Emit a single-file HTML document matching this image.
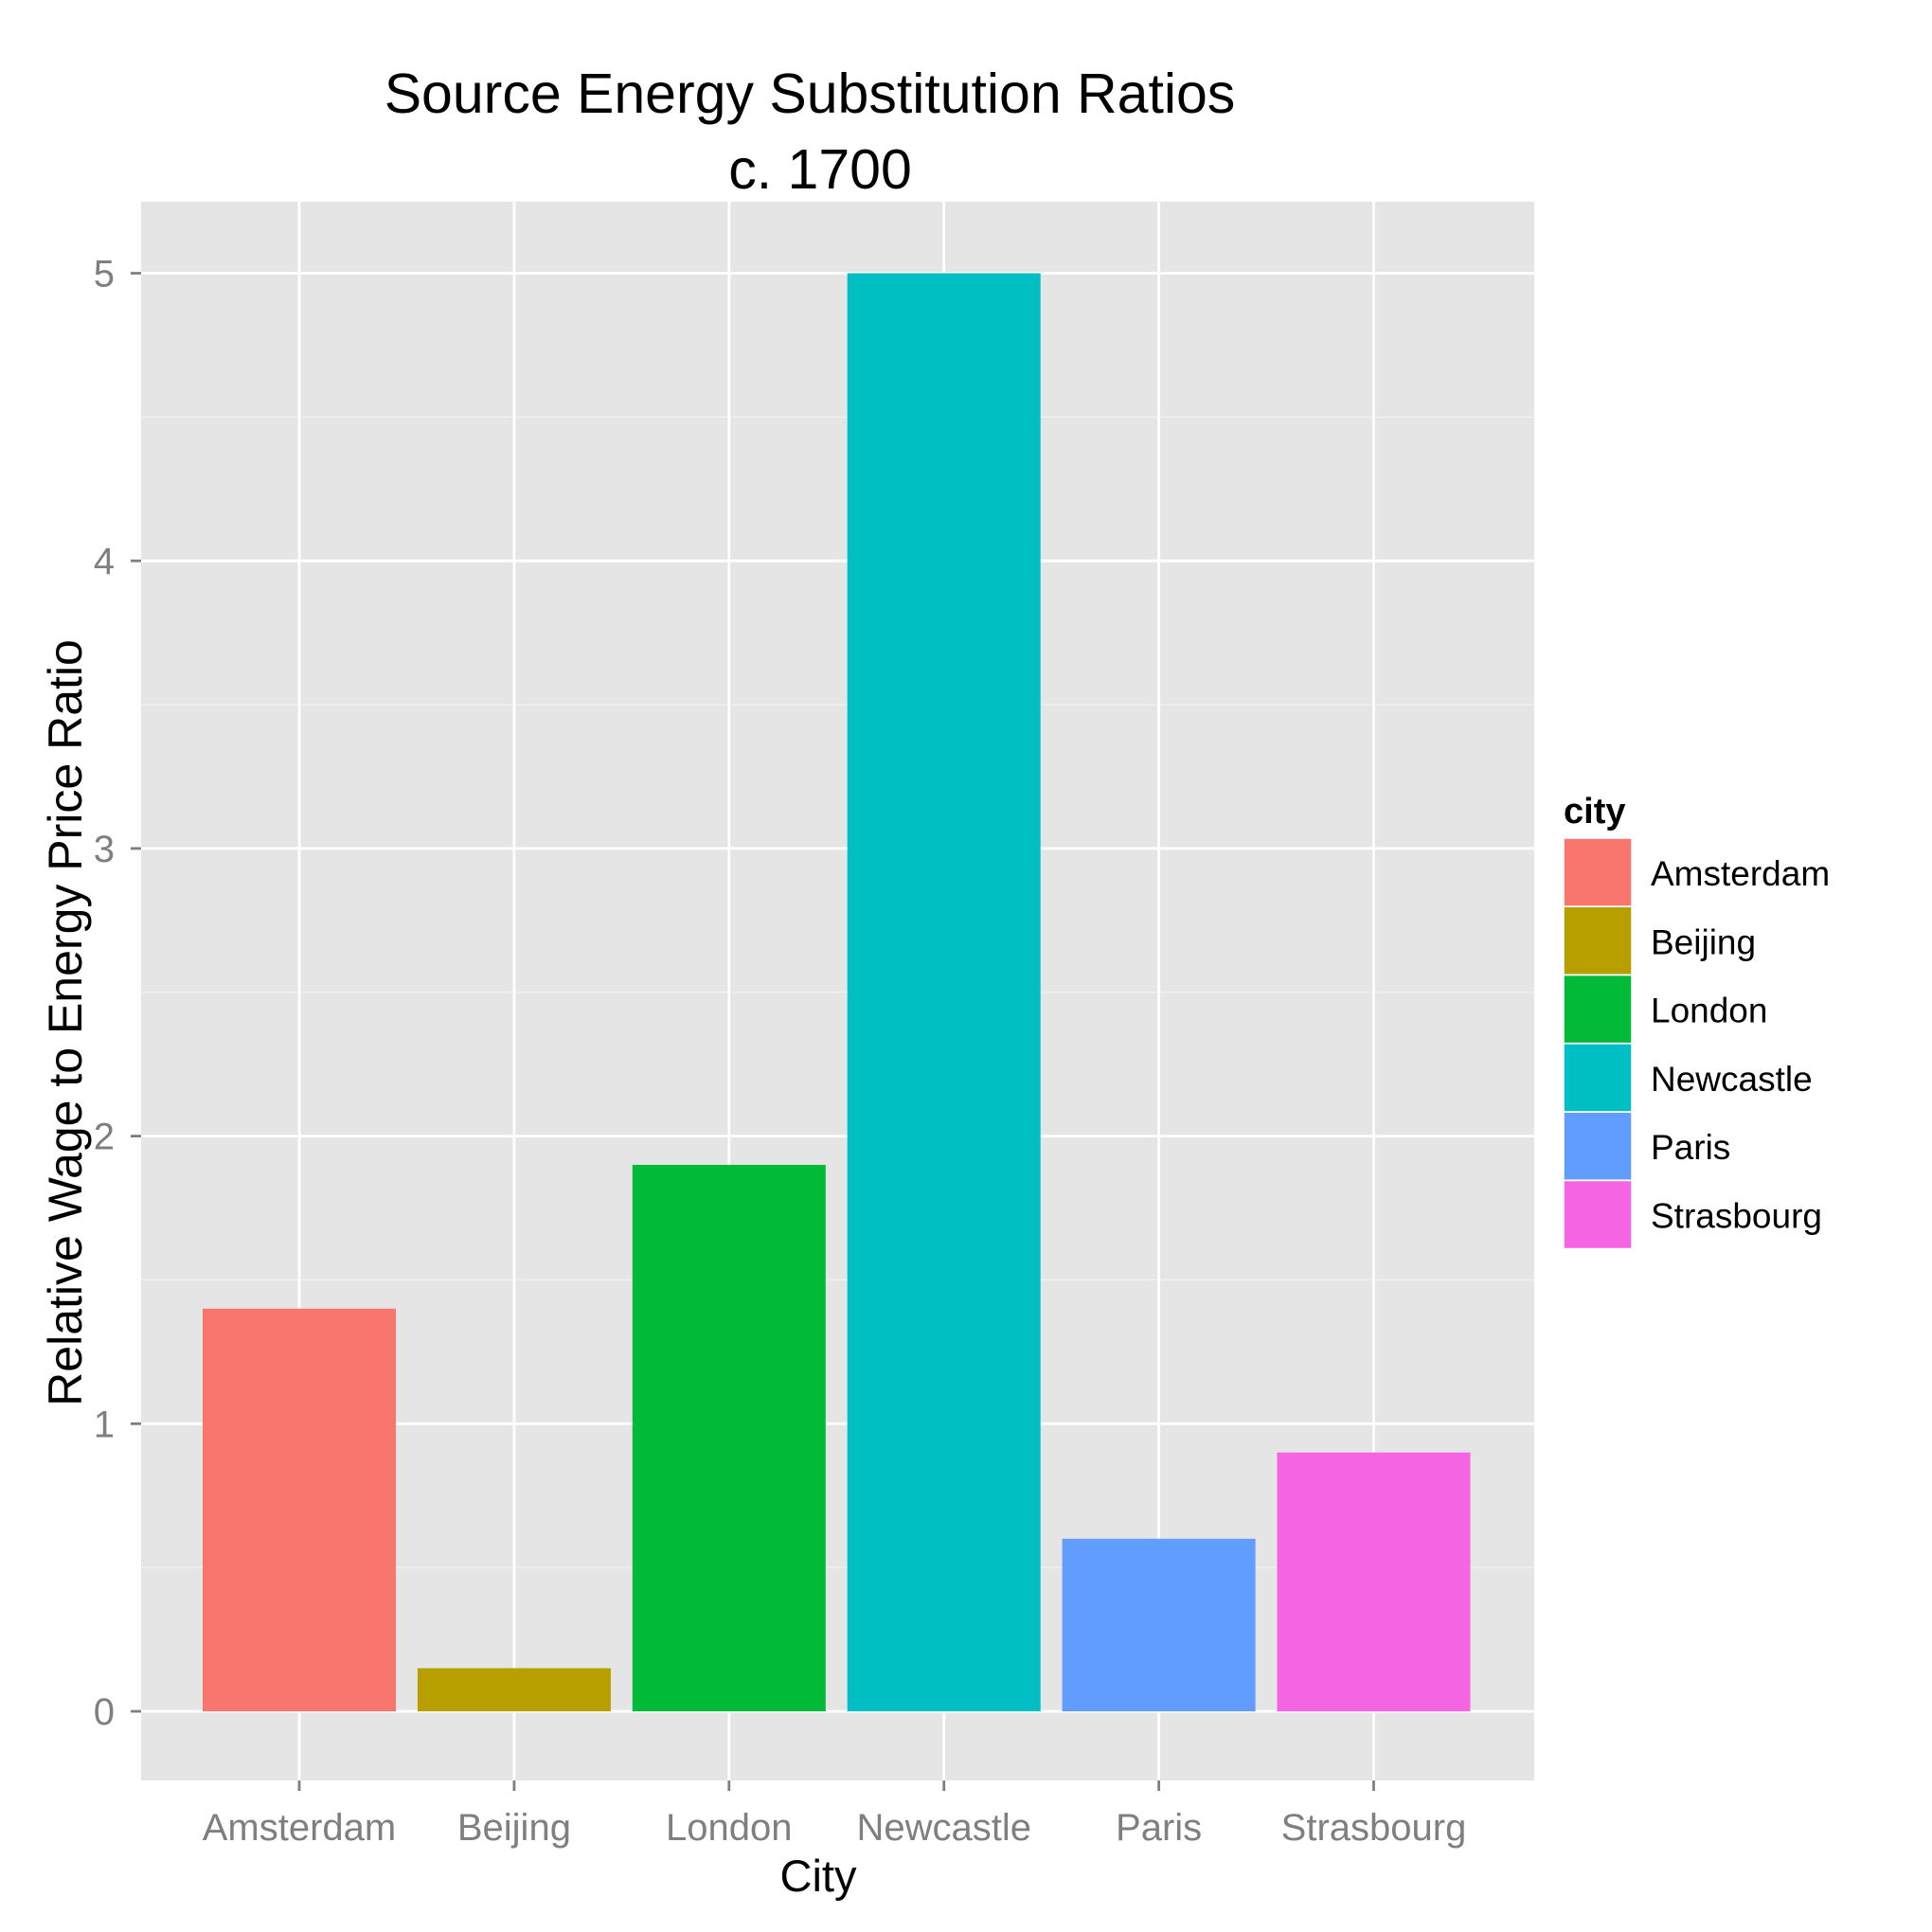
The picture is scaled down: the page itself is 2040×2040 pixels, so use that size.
<!DOCTYPE html>
<html><head><meta charset="utf-8"><style>
html,body{margin:0;padding:0;background:#fff;}
svg{display:block;font-family:"Liberation Sans",Arial,sans-serif;}
</style></head><body>
<svg id="chart" width="2040" height="2040" viewBox="0 0 2040 2040">
<rect x="0" y="0" width="2040" height="2040" fill="#fff"/>
<text x="855" y="119" font-size="59" text-anchor="middle" fill="#000">Source Energy Substitution Ratios</text>
<text x="866" y="199" font-size="59" text-anchor="middle" fill="#000">c. 1700</text>
<rect x="149" y="213" width="1471" height="1667" fill="#E5E5E5"/>
<g id="grid"></g>
<g id="bars"></g>
<g id="axes"></g>
<text x="0" y="0" font-size="50" text-anchor="middle" fill="#000" transform="translate(86,1080) rotate(-90)">Relative Wage to Energy Price Ratio</text>
<text x="864" y="1997" font-size="47" text-anchor="middle" fill="#000">City</text>
<g id="legend">
<text x="1651" y="869" font-size="38" font-weight="bold" fill="#000">city</text>
</g>
</svg>
<script>
const categories = ["Amsterdam","Beijing","London","Newcastle","Paris","Strasbourg"];
const values = [1.4, 0.15, 1.9, 5, 0.6, 0.9];
const colors = ["#F8766D","#B79F00","#00BA38","#00BFC4","#619CFF","#F564E3"];
const yTicks = [0,1,2,3,4,5];
const yMinor = [0.5,1.5,2.5,3.5,4.5];

const NS = "http://www.w3.org/2000/svg";
const px0 = 149, px1 = 1620, py0 = 213, py1 = 1880;
const y0 = 1807, unit = 303.7;
const step = 226.9, firstX = 316;
function yScale(v){ return y0 - v*unit; }
function xScale(i){ return firstX + i*step; }
function mk(tag, attrs, parent){ const e=document.createElementNS(NS,tag); for(const k in attrs) e.setAttribute(k,attrs[k]); parent.appendChild(e); return e; }

const grid = document.getElementById('grid');
const bars = document.getElementById('bars');
const axes = document.getElementById('axes');
const legend = document.getElementById('legend');

yMinor.forEach(v=>{
  const l = mk('line',{x1:px0,x2:px1,y1:yScale(v),y2:yScale(v),stroke:'#F2F2F2','stroke-width':1.3},grid);
  
  
});
yTicks.forEach(v=>{
  const l = mk('line',{x1:px0,x2:px1,y1:yScale(v),y2:yScale(v),stroke:'#fff','stroke-width':2.8},grid);
  
  
  const t = mk('line',{x1:138,x2:149,y1:yScale(v),y2:yScale(v),stroke:'#7F7F7F','stroke-width':2.8},axes);
  
  
  const tx = mk('text',{x:121,y:yScale(v)+14,'font-size':40,'text-anchor':'end',fill:'#7F7F7F'},axes);
  tx.textContent = v;
  
  
});
categories.forEach((c,i)=>{
  const x = xScale(i);
  const g = mk('line',{x1:x,x2:x,y1:py0,y2:py1,stroke:'#fff','stroke-width':2.8},grid);
  
  
  const h = values[i]*unit;
  const r = mk('rect',{x:x-102,y:yScale(values[i]),width:204,height:h,fill:colors[i]},bars);
  
  
  const t = mk('line',{x1:x,x2:x,y1:py1,y2:py1+11,stroke:'#7F7F7F','stroke-width':2.8},axes);
  
  
  const tx = mk('text',{x:x,y:1943,'font-size':40,'text-anchor':'middle',fill:'#7F7F7F'},axes);
  tx.textContent = c;
  
  
  const ky = 885 + i*72.3;
  const k = mk('rect',{x:1651,y:ky,width:72,height:72,fill:colors[i],stroke:'#fff','stroke-width':1.5},legend);
  
  
  const lt = mk('text',{x:1743,y:ky+50,'font-size':37,fill:'#000'},legend);
  lt.textContent = c;
  
  
});
</script>
</body></html>
